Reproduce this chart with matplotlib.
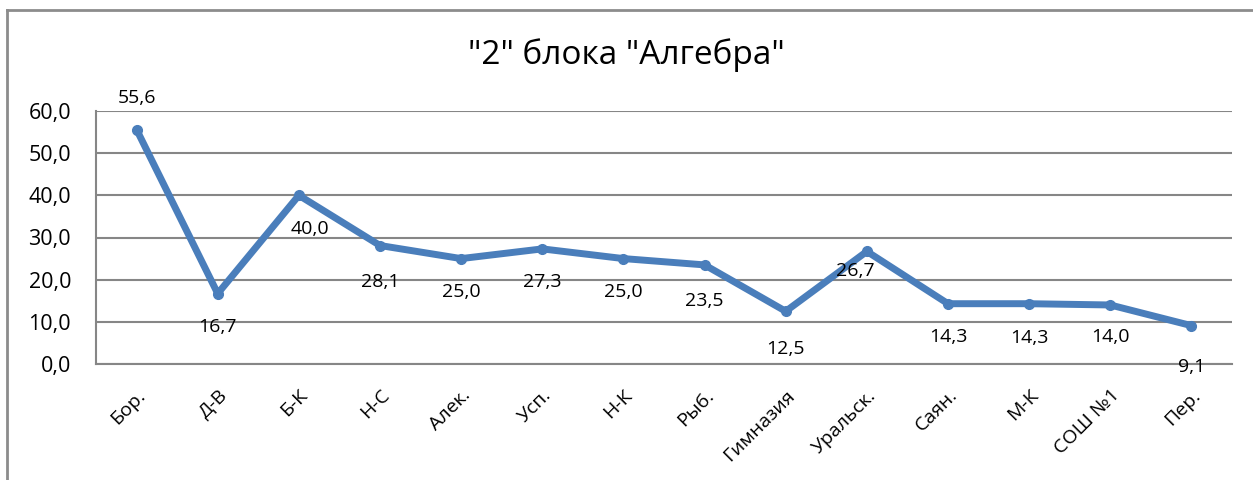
import matplotlib.pyplot as plt
from matplotlib.lines import Line2D

categories = ['Бор.', 'Д-В', 'Б-К', 'Н-С', 'Алек.', 'Усп.', 'Н-К', 'Рыб.',
              'Гимназия', 'Уральск.', 'Саян.', 'М-К', 'СОШ №1', 'Пер.']
values = [55.6, 16.7, 40.0, 28.1, 25.0, 27.3, 25.0, 23.5, 12.5, 26.7, 14.3, 14.3, 14.0, 9.1]

# label offsets in points (dx, dy), picked to match where the labels sit
label_offsets = [(0, 23), (0, -24), (8, -24), (0, -26), (0, -24), (0, -24), (0, -24),
                 (0, -26), (0, -27), (-8, -14), (0, -24), (0, -25), (0, -23), (0, -30)]

plt.rcParams['font.family'] = ['Open Sans', 'DejaVu Sans']

fig = plt.figure(figsize=(12.53, 4.8), dpi=100)
ax = fig.add_axes([96 / 1253, 1 - 364 / 480, 1136 / 1253, 253 / 480])

blue = '#4a7ebb'
x = range(len(values))
ax.plot(x, values, color=blue, lw=5, marker='o', ms=7, solid_capstyle='round',
        solid_joinstyle='round', zorder=3)

for i, v in enumerate(values):
    dx, dy = label_offsets[i]
    ax.annotate(f'{v:.1f}'.replace('.', ','), (i, v), xytext=(dx, dy),
                textcoords='offset points', ha='center', va='center', fontsize=14)

ax.set_xlim(-0.5, len(values) - 0.5)
ax.set_ylim(0, 60)
ax.set_yticks(range(0, 61, 10))
ax.set_yticklabels([f'{t},0' for t in range(0, 61, 10)], fontsize=15.5)
ax.set_xticks(list(x))
ax.set_xticklabels(categories, rotation=45, ha='right', rotation_mode='anchor', fontsize=14)
ax.tick_params(axis='both', length=0)
ax.tick_params(axis='x', pad=16)
ax.tick_params(axis='y', pad=18)
ax.grid(axis='y', color='#868686', lw=1.5)
ax.set_axisbelow(True)
for s in ['top', 'right']:
    ax.spines[s].set_visible(False)
for s in ['left', 'bottom']:
    ax.spines[s].set_color('#868686')
    ax.spines[s].set_linewidth(1.5)

fig.text(0.5, 1 - 55 / 480, '"2" блока "Алгебра"', ha='center', va='center', fontsize=24)

# outer chart frame (top and left edges visible)
fig.add_artist(Line2D([7 / 1253, 1], [1 - 10 / 480, 1 - 10 / 480], transform=fig.transFigure,
                      color='#8c8c8c', lw=2))
fig.add_artist(Line2D([7 / 1253, 7 / 1253], [0, 1 - 10 / 480], transform=fig.transFigure,
                      color='#8c8c8c', lw=2))

fig.savefig('out.png', dpi=100)
